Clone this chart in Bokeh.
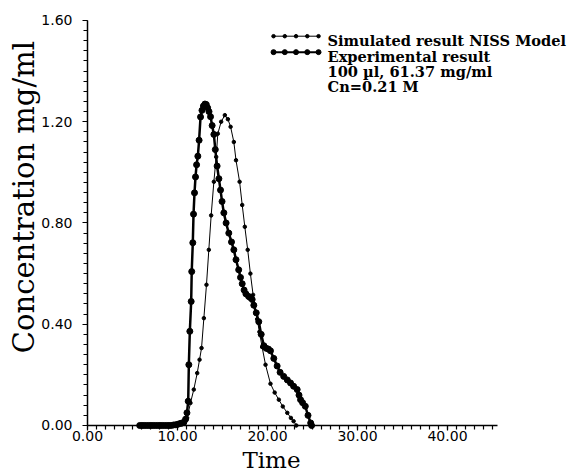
import numpy as np
from bokeh.plotting import figure
from bokeh.models import Label, SingleIntervalTicker, PrintfTickFormatter, Range1d
from bokeh.embed import file_html
from bokeh.resources import INLINE

# ---- data ----
sim_time = [6.0, 6.5, 7.0, 7.5, 8.0, 8.5, 9.0, 9.5, 10.0, 10.5, 10.8, 11.07, 11.44,
            11.81, 12.19, 12.45, 12.67, 12.93, 13.22, 13.48, 13.74, 14.04, 14.3,
            14.48, 14.85, 15.26, 15.6, 15.9, 16.26, 16.5, 16.9, 17.19, 17.48, 17.8,
            18.1, 18.4, 18.85, 19.1, 19.4, 19.78, 20.33, 20.8, 21.26, 21.7, 22.2,
            22.6, 22.9, 23.2]
sim_conc = [0.0, 0.0, 0.0, 0.0, 0.0, 0.0, 0.0, 0.0, 0.0, 0.005, 0.015, 0.03, 0.089,
            0.142, 0.207, 0.26, 0.306, 0.424, 0.556, 0.694, 0.83, 0.963, 1.061,
            1.153, 1.2, 1.226, 1.21, 1.18, 1.12, 1.048, 0.963, 0.871, 0.785, 0.694,
            0.60, 0.516, 0.42, 0.37, 0.31, 0.24, 0.165, 0.13, 0.102, 0.075, 0.05,
            0.03, 0.017, 0.0]

exp_time = [5.8, 6.05, 6.3, 6.55, 6.8, 7.05, 7.3, 7.55, 7.8, 8.05, 8.3, 8.55, 8.8,
            9.05, 9.3, 9.55, 9.8, 10.05, 10.3, 10.5, 10.7, 10.9, 11.05, 11.19, 11.26,
            11.37, 11.52, 11.58, 11.7, 11.78, 11.89, 12.0, 12.12, 12.26, 12.4, 12.56,
            12.72, 12.88, 13.05, 13.2, 13.35, 13.5, 13.67, 13.85, 14.04, 14.2, 14.4,
            14.6, 14.78, 14.95, 15.15, 15.4, 15.7, 16.0, 16.26, 16.5, 16.8, 17.0,
            17.19, 17.4, 17.6, 17.9, 18.1, 18.3, 18.48, 18.75, 19.03, 19.3, 19.6,
            19.85, 20.1, 20.33, 20.7, 21.07, 21.4, 21.8, 22.2, 22.56, 22.9, 23.3,
            23.5, 23.67, 23.9, 24.2, 24.5, 24.8, 24.9]
exp_conc = [0.0, 0.0, 0.0, 0.0, 0.0, 0.0, 0.0, 0.0, 0.0, 0.0, 0.0, 0.0, 0.0,
            0.0, 0.0, 0.002, 0.003, 0.005, 0.008, 0.01, 0.012, 0.025, 0.05, 0.096, 0.24,
            0.372, 0.49, 0.608, 0.722, 0.835, 0.919, 0.982, 1.03, 1.064, 1.127, 1.219,
            1.245, 1.262, 1.27, 1.268, 1.255, 1.24, 1.22, 1.185, 1.15, 1.09, 1.025,
            0.975, 0.93, 0.885, 0.84, 0.80, 0.76, 0.725, 0.694, 0.655, 0.615, 0.585,
            0.56, 0.535, 0.52, 0.51, 0.505, 0.498, 0.475, 0.445, 0.41, 0.36, 0.315,
            0.305, 0.302, 0.295, 0.265, 0.235, 0.21, 0.194, 0.18, 0.168, 0.155, 0.142,
            0.12, 0.102, 0.09, 0.076, 0.04, 0.01, 0.0]

legend_lines = ["Simulated result NISS Model", "Experimental result",
                "100 \u00b5l, 61.37 mg/ml", "Cn=0.21 M"]
x_label = "Time"
y_label = "Concentration  mg/ml"

X_MAX = 45.56
Y_MAX = 1.6

# ---- figure: frame covers the whole canvas, axes pinned at 0 ----
p = figure(width=576, height=472,
           x_range=Range1d(-9.667, 54.333), y_range=Range1d(-0.1857, 1.679),
           output_backend="svg", toolbar_location=None,
           min_border_left=0, min_border_right=0, min_border_top=0, min_border_bottom=0)
p.outline_line_color = None
p.grid.visible = False
p.background_fill_color = "white"

p.xaxis.ticker = SingleIntervalTicker(interval=10, num_minor_ticks=10)
p.yaxis.ticker = SingleIntervalTicker(interval=0.4, num_minor_ticks=10)
p.xaxis.fixed_location = 0
p.yaxis.fixed_location = 0
p.xaxis.bounds = (0, X_MAX)
p.yaxis.bounds = (0, Y_MAX)
for ax in (p.xaxis, p.yaxis):
    ax.formatter = PrintfTickFormatter(format="%.2f")
    ax.axis_line_width = 1.5
    ax.axis_line_color = "black"
    ax.major_tick_in = 0
    ax.major_tick_out = 5
    ax.minor_tick_in = 0
    ax.minor_tick_out = 4
    ax.major_tick_line_width = 1.2
    ax.minor_tick_line_width = 1.2
    ax.major_tick_line_color = "black"
    ax.minor_tick_line_color = "black"
    ax.major_label_text_font = "DejaVu Sans"
    ax.major_label_text_font_size = "14px"
    ax.major_label_text_color = "black"
p.xaxis.major_label_standoff = 1
p.yaxis.major_label_standoff = 10

# curves
p.line(sim_time, sim_conc, line_color="black", line_width=1)
p.scatter(sim_time, sim_conc, size=3.5, color="black")
p.line(exp_time, exp_conc, line_color="black", line_width=2.5)
p.scatter(exp_time, exp_conc, size=6, color="black")

# manual legend samples (positions in data units)
lx = np.linspace(20.67, 25.67, 5)
p.line(lx, [1.538] * 5, line_color="black", line_width=1)
p.scatter(lx, [1.538] * 5, size=3.5, color="black")
p.line(lx, [1.475] * 5, line_color="black", line_width=2)
p.scatter(lx, [1.475] * 5, size=5, color="black")

for txt, yy in zip(legend_lines, [1.521, 1.458, 1.399, 1.339]):
    p.add_layout(Label(x=26.67, y=yy, text=txt, text_font="DejaVu Serif",
                       text_font_style="bold", text_font_size="14.6px",
                       text_color="black", text_baseline="alphabetic", text_align="left"))

p.add_layout(Label(x=20.44, y=-0.138, text=x_label, text_font="DejaVu Serif",
                   text_font_size="23px", text_color="black",
                   text_baseline="alphabetic", text_align="center"))
p.add_layout(Label(x=-7.11, y=0.9205, text=y_label, angle=np.pi / 2, text_font="DejaVu Serif",
                   text_font_size="29px", text_color="black",
                   text_baseline="middle", text_align="center"))

open("out.html", "w").write(file_html(p, INLINE))
